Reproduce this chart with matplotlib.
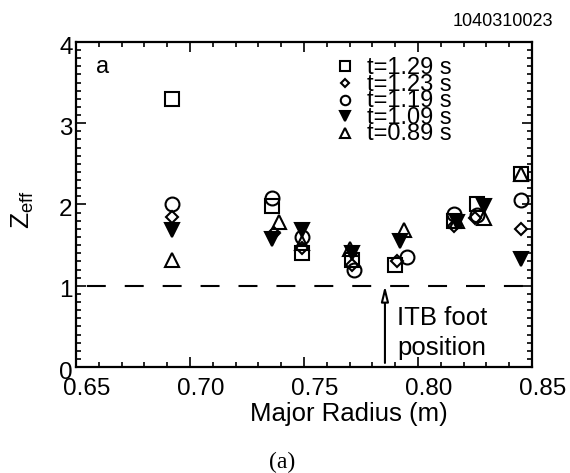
import matplotlib
matplotlib.use("Agg")
import matplotlib.pyplot as plt
import matplotlib.transforms as mtransforms
from matplotlib.ticker import MultipleLocator, FormatStrFormatter

plt.rcParams['font.family'] = ['Liberation Sans', 'DejaVu Sans']
plt.rcParams['mathtext.fontset'] = 'custom'
plt.rcParams['mathtext.rm'] = 'Liberation Sans'
plt.rcParams['mathtext.it'] = 'Liberation Sans'

# ---- data ----
labels = ['t=1.29 s', 't=1.23 s', 't=1.19 s', 't=1.09 s', 't=0.89 s']
markers = ['s', 'D', 'o', 'v', '^']
filled = [False, False, False, True, False]

R_129 = [0.692, 0.736, 0.749, 0.771, 0.790, 0.816, 0.826, 0.845]
Z_129 = [3.30, 1.98, 1.40, 1.32, 1.25, 1.80, 2.00, 2.38]
R_123 = [0.692, 0.737, 0.749, 0.771, 0.791, 0.816, 0.825, 0.845]
Z_123 = [1.84, 1.65, 1.47, 1.25, 1.30, 1.74, 1.83, 1.70]
R_119 = [0.692, 0.736, 0.749, 0.772, 0.795, 0.816, 0.826, 0.845]
Z_119 = [2.00, 2.08, 1.60, 1.20, 1.35, 1.88, 1.87, 2.05]
R_109 = [0.692, 0.736, 0.749, 0.771, 0.792, 0.817, 0.829, 0.845]
Z_109 = [1.68, 1.57, 1.68, 1.40, 1.55, 1.78, 1.98, 1.33]
R_089 = [0.692, 0.739, 0.749, 0.770, 0.794, 0.817, 0.829, 0.845]
Z_089 = [1.32, 1.79, 1.52, 1.45, 1.68, 1.80, 1.83, 2.38]

R_series = [R_129, R_123, R_119, R_109, R_089]
Z_series = [Z_129, Z_123, Z_119, Z_109, Z_089]

itb_foot = 0.7855
zeff_ref = 1.0
shot = '1040310023'

# ---- figure ----
fig = plt.figure(figsize=(5.7, 4.73), dpi=100)
ax = fig.add_axes([76/570, 1-367/473, 456/570, 325/473])

msizes = {'s': 10, 'D': 6.4, 'o': 10, 'v': 10.5, '^': 10.5}
for R, Z, m, f, lab in zip(R_series, Z_series, markers, filled, labels):
    ax.plot(R, Z, linestyle='none', marker=m, markersize=msizes[m],
            markeredgewidth=1.5, markeredgecolor='black',
            markerfacecolor='black' if f else 'none', label=lab)

ax.axhline(zeff_ref, color='black', lw=1.5, linestyle=(13.0, (9.1, 9.1)))

ax.annotate('', xy=(itb_foot, 1.0), xytext=(itb_foot, 0.05),
            arrowprops=dict(arrowstyle='-|>,head_length=0.9,head_width=0.22',
                            fc='white', ec='black', lw=1.5,
                            shrinkA=0, shrinkB=0))
ax.text(0.7908, 0.42, 'ITB foot\nposition', fontsize=18.5, ha='left',
        va='center', linespacing=1.28)

ax.text(27/456, (367-67)/325, 'a', transform=ax.transAxes, fontsize=17,
        ha='center', va='center')

ax.set_xlim(0.65, 0.85)
ax.set_ylim(0, 4)
ax.xaxis.set_major_locator(MultipleLocator(0.05))
ax.xaxis.set_minor_locator(MultipleLocator(0.01))
ax.xaxis.set_major_formatter(FormatStrFormatter('%.2f'))
ax.yaxis.set_major_locator(MultipleLocator(1))
ax.yaxis.set_minor_locator(MultipleLocator(0.1))
ax.tick_params(which='both', direction='in', top=True, right=True,
               width=1.2, labelsize=17.5)
ax.tick_params(which='major', length=7)
ax.tick_params(which='minor', length=3.5)
ax.tick_params(axis='x', pad=8)
ax.tick_params(axis='y', pad=2.5)
for s in ax.spines.values():
    s.set_linewidth(1.6)

off_x = mtransforms.ScaledTranslation(11/100, 0, fig.dpi_scale_trans)
for lab in ax.get_xticklabels():
    lab.set_transform(lab.get_transform() + off_x)
off_y = mtransforms.ScaledTranslation(0, -3/100, fig.dpi_scale_trans)
for lab in ax.get_yticklabels():
    lab.set_transform(lab.get_transform() + off_y)

ax.set_xlabel('Major Radius (m)', fontsize=18.5)
ax.xaxis.set_label_coords((349-76)/456, (367-414)/325)
ax.xaxis.label.set_va('center')
ax.set_ylabel(r'$\mathregular{Z_{eff}}$', fontsize=19)
ax.yaxis.set_label_coords((23-76)/456, (367-210)/325)
ax.yaxis.label.set_va('center')

leg = ax.legend(loc='upper left', bbox_to_anchor=((337-76)/456, (367-57)/325),
                frameon=False, fontsize=17, labelspacing=-0.23,
                handlelength=0.7, handletextpad=0.55, handleheight=0.5,
                borderpad=0, borderaxespad=0, markerscale=0.68)

fig.text(553/570, 1-21/473, shot, fontsize=13, ha='right', va='center')
fig.text(282/570, 1-462/473, '(a)', fontsize=17, ha='center', va='center',
         family=['Liberation Serif', 'DejaVu Serif'])

fig.savefig('out.png', dpi=100)
